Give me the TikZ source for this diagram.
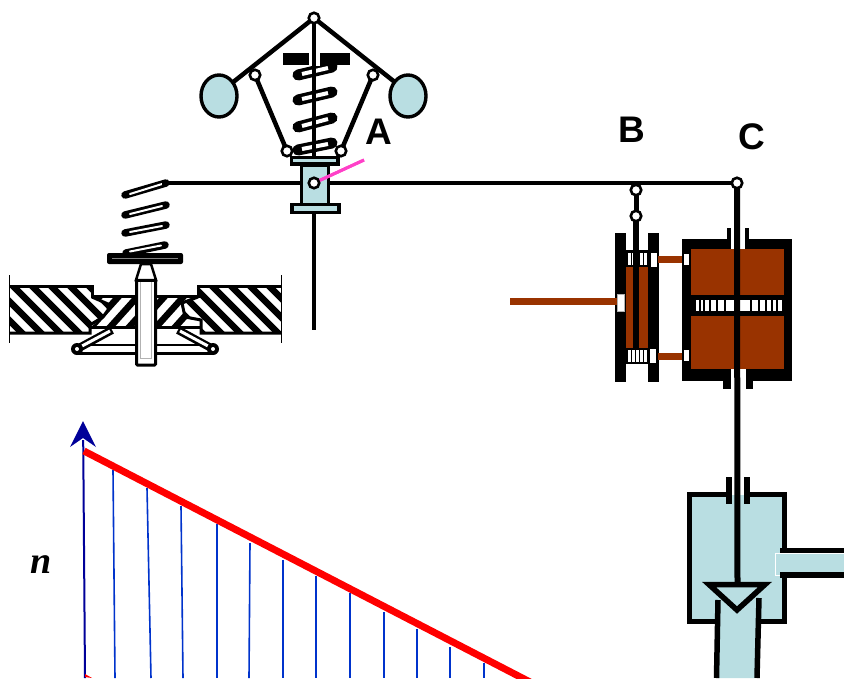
\documentclass[tikz,border=0pt]{standalone}
\usepackage{fontspec}
\setmainfont{Liberation Serif}
\newfontfamily\labfont{Liberation Sans}[BoldFont={Liberation Sans Bold}]
\usetikzlibrary{arrows.meta}
\definecolor{pale}{HTML}{B9DEE2}
\definecolor{rust}{HTML}{993300}
\definecolor{navy}{HTML}{000099}
\definecolor{ticks}{HTML}{0033CC}
\definecolor{pink}{HTML}{FF40C8}
\tikzset{
  pivot/.style={circle,draw=black,fill=white,line width=2.6pt,inner sep=0pt,minimum size=10.5pt},
  bar/.style={draw=black,line width=4.5pt},
  linkbar/.style={draw=black,line width=4pt},
  paleframe/.style={fill=pale,draw=black,line width=3.2pt},
  letter/.style={font=\labfont\bfseries\fontsize{37}{37}\selectfont,inner sep=0pt,text=black},
  hatch/.style={draw=black,line width=6.5pt},
  coilblack/.style={draw=black,line width=11pt,line cap=round},
  coilwhite/.style={draw=white,line width=4pt},
  lcoilblack/.style={draw=black,line width=7.5pt,line cap=round},
  lcoilwhite/.style={draw=white,line width=2pt,line cap=round},
  rustline/.style={draw=rust,line width=7pt},
  tick/.style={draw=ticks,line width=1.6pt},
  port/.style={fill=white,draw=none},
}
\begin{document}
\begin{tikzpicture}[x=1pt,y=-1pt]
\useasboundingbox (0,0) rectangle (844,678);
\fill[white] (0,0) rectangle (844,678);
% anchors
\coordinate (top) at (314,18);
\coordinate (kl) at (255,75);
\coordinate (kr) at (373,75);
\coordinate (fl) at (287,151);
\coordinate (fr) at (341,151);
\coordinate (sl) at (314,183);
\coordinate (leverL) at (162,183);
\coordinate (pb) at (636,190);
\coordinate (pb2) at (636,216);
\coordinate (pc) at (737,183);
\coordinate (rodend) at (314,330);

% chart
\draw[tick] (113,470) -- (115,678);
\draw[tick] (147,488) -- (151,678);
\draw[tick] (181,506) -- (183,678);
\draw[tick] (217,524) -- (217,678);
\draw[tick] (250,543) -- (249,678);
\draw[tick] (283,560) -- (283,678);
\draw[tick] (316,576) -- (316,678);
\draw[tick] (350,593) -- (350,678);
\draw[tick] (384,612) -- (384,678);
\draw[tick] (417,629) -- (417,678);
\draw[tick] (450,647) -- (450,678);
\draw[tick] (484,663) -- (484,678);
\coordinate (axisfoot) at (85,678);
\coordinate (axistip) at (83,421);
\draw[navy,line width=2pt] (axisfoot) -- (83.2,440);
\fill[navy] (axistip) -- (96,447) -- (83,438) -- (70,447) -- cycle;
\draw[red,line width=7pt] (84,451) -- (530,682);
\fill[red] (85,677) -- (92,678) -- (85,674) -- cycle;
\node[inner sep=0pt] (nlabel) at (41,565) {\fontsize{38}{38}\selectfont\bfseries\itshape n};

% lower-left spring
\foreach \a/\b in {195/183,215/205,233/225}{
  \draw[lcoilblack] (125,\a) -- (166,\b);
  \draw[lcoilwhite] (130,{\a-1}) -- (162,{\b+1});
}
\draw[lcoilblack] (126,253) -- (165,245);
\draw[lcoilwhite] (130,251.5) -- (161,245.5);
\fill[black,rounded corners=2pt] (107,253) rectangle (183,264);
\draw[gray,line width=.8pt] (112,258.5) -- (178,258.5);

% hatched body
\begin{scope}
\clip (9,286) -- (92,286) -- (92,297) -- (108,304) -- (108,310) -- (103,317) -- (91,325) -- (91,333) -- (9,333) -- cycle;
\foreach \x in {-50,-31,...,90} \draw[hatch] (\x,280) -- (\x+60,340);
\end{scope}
\begin{scope}
\clip (198,286) -- (281,286) -- (281,333) -- (201,333) -- (201,320) -- (185,317) -- (182,303) -- (198,297) -- cycle;
\foreach \x in {130,149,...,290} \draw[hatch] (\x,280) -- (\x+60,340);
\end{scope}
\begin{scope}
\clip (92,297) -- (135,297) -- (135,327) -- (91,327) -- (103,317) -- (108,310) -- (108,304) -- cycle;
\foreach \x in {110,129,148,167} \draw[hatch] (\x,285) -- (\x-45,335);
\end{scope}
\begin{scope}
\clip (157,297) -- (198,297) -- (182,303) -- (185,317) -- (201,320) -- (201,327) -- (157,327) -- cycle;
\foreach \x in {175,194,213} \draw[hatch] (\x,285) -- (\x-45,335);
\end{scope}
\draw[black,line width=3pt] (9,286) -- (92,286) -- (92,296) -- (135,296);
\draw[black,line width=3pt] (281,286) -- (198,286) -- (198,296) -- (157,296);
\draw[black,line width=3pt] (9,333) -- (90,333) -- (90,325) -- (103,317) -- (108,310) -- (108,304) -- (92,297);
\draw[black,line width=3pt] (281,333) -- (201,333) -- (201,320) -- (185,317) -- (182,303) -- (198,297);
\draw[black,line width=3pt] (90,327) -- (135,327);
\draw[black,line width=3pt] (157,327) -- (201,327);
\draw[black,line width=.8pt] (9,275) -- (9,343);
\draw[black,line width=.8pt] (281,275) -- (281,343);
% wedge links
\coordinate (wl) at (77,349);
\coordinate (wr) at (213,349);
\draw[black,line width=11pt] (wl) -- (135,349);
\draw[black,line width=11pt] (157,349) -- (wr);
\draw[white,line width=5.5pt] (82,349) -- (135,349);
\draw[white,line width=5.5pt] (157,349) -- (208,349);
\draw[black,line width=8pt] (wl) -- (112,330);
\draw[black,line width=8pt] (wr) -- (178,330);
\draw[white,line width=3pt] (82,346) -- (110,331);
\draw[white,line width=3pt] (208,346) -- (180,331);
\fill[black] (wl) circle (6);
\fill[black] (wr) circle (6);
\fill[white] (wl) circle (2);
\fill[white] (wr) circle (2);
% pin
\draw[black,fill=white,line width=3pt,rounded corners=1pt] (136.5,280) rectangle (155.5,365);
\draw[gray!60,line width=1pt] (140.5,282) -- (140.5,358) -- (151.5,358) -- (151.5,282);
\draw[black,fill=white,line width=2.5pt] (136,280) -- (141,264) -- (151,264) -- (156,280) -- cycle;
\draw[black,fill=white,line width=0pt] (136,280) rectangle (156,281);

% governor spring
\foreach \a/\b in {75/67,100/92,127/118}{
  \draw[coilblack] (298,\a) -- (332,\b);
  \draw[coilwhite] (302,{\a-1}) -- (328,{\b+1});
}
\draw[coilblack] (298,150) -- (332,143);
\draw[coilwhite] (302,149) -- (328,144);
\fill[black] (283,53) rectangle (350,65);
\draw[white,line width=11pt] (top|-53,52) -- (top|-53,66);

% lever and rod
\draw[bar] (leverL) -- (pc);
\draw[linkbar] (top) -- (314,160);
\draw[linkbar] (314,210) -- (rodend);
% arms, balls
\draw[bar] (top) -- (232,83);
\draw[bar] (top) -- (396,83);
\draw[bar] (kl) -- (fl);
\draw[bar] (kr) -- (fr);
\draw[black,fill=pale,line width=3.4pt] (219,96) ellipse (18 and 21);
\draw[black,fill=pale,line width=3.4pt] (408,96) ellipse (18 and 21);
% sleeve
\draw[paleframe] (301.5,165) rectangle (328.5,205);
\draw[paleframe] (291.5,157.5) rectangle (338,164);
\draw[paleframe] (292,204.5) rectangle (339,212.5);
\draw[pink,line width=3pt] (sl) -- (364,160);
\node[pivot] (ptop) at (top) {};
\node[pivot] (pkl) at (kl) {};
\node[pivot] (pkr) at (kr) {};
\node[pivot] (pfl) at (fl) {};
\node[pivot] (pfr) at (fr) {};
\node[pivot] (psl) at (sl) {};
\draw[pink,line width=3pt] (psl) -- (364,160);

% block B
\fill[rust] (626,267) rectangle (648,348);
\fill[black] (615,233) rectangle (625.5,382);
\fill[black] (648,233) rectangle (658.5,382);
\draw[rustline] (510,301.5) -- (617,301.5);
\fill[port,draw=gray!60,line width=.5pt] (617,294) rectangle (624,311);
\fill[black] (625,250) rectangle (650,267);
\fill[black] (625,348) rectangle (650,364);
\foreach \x in {628,632,636,640,644} {
  \fill[white] (\x,253) rectangle (\x+2.6,265);
  \fill[white] (\x,350) rectangle (\x+2.6,362);
}
\fill[port] (651,253) rectangle (657,267);
\fill[port] (650,349) rectangle (656,363);
\draw[rustline] (658,259) -- (683,259);
\draw[rustline] (658,356) -- (683,356);
\draw[black,line width=5.5pt] (pb2) -- (636,350);
\draw[black,line width=5pt] (pb) -- (pb2);
\draw[linkbar] (636,183) -- (pb);

% block C
\fill[black] (682,239) rectangle (792,381);
\fill[rust] (691,249) rectangle (784,369);
\fill[black] (691,295) rectangle (784,316);
\fill[white] (731,239) rectangle (745,249);
\fill[white] (731,369) rectangle (746,390);
\fill[black] (727,228) rectangle (731,248);
\fill[black] (745,228) rectangle (749,248);
\fill[black] (723,381) rectangle (731,389);
\fill[black] (746,381) rectangle (753,389);
\fill[white] (696,300) rectangle (782,311);
\foreach \x/\w in {699/1.5,703/1.5,709/1.5,716/1.5,724/1.5,750/1.5,758/1.5,765/1.5,771/1.5,776/1.5} \fill[black] (\x,300) rectangle (\x+\w,311);
\fill[port] (683.5,254) rectangle (689,265);
\fill[port] (683.5,350) rectangle (689,361);

% lower valve
\fill[pale] (690,495) rectangle (784,621);
\fill[pale] (718,600) -- (759,600) -- (756,678) -- (718,678) -- cycle;
\fill[white] (732,470) rectangle (744,494.5);
\draw[black,line width=5.5pt] (729,494.7) -- (689.7,494.7) -- (689.7,621.3) -- (718,621.3);
\draw[black,line width=5.5pt] (747,494.7) -- (784.3,494.7) -- (784.3,550);
\draw[black,line width=5.5pt] (784.3,575) -- (784.3,621.3) -- (759,621.3);
\fill[pale] (775,553) rectangle (844,572);
\draw[white,line width=.7pt] (844,553) -- (775.5,553) -- (775.5,575) -- (780,575);
\draw[black,line width=5.5pt] (780,550.5) -- (844,550.5);
\draw[black,line width=5.5pt] (780,575) -- (844,575);
\fill[black] (726,477) rectangle (732,504);
\fill[black] (744,477) rectangle (750,504);
\draw[black,line width=5.5pt] (718,600) -- (716.5,678);
\draw[black,line width=5.5pt] (759,598) -- (757,678);
\draw[black,fill=pale,line width=5.5pt,miter limit=10] (709,584.5) -- (737,610) -- (765,584.5) -- cycle;

% rod C
\draw[black,line width=6pt] (pc) -- (737.5,583);
\node[pivot] (ppb) at (pb) {};
\node[pivot] (ppb2) at (pb2) {};
\node[pivot] (ppc) at (pc) {};

% labels
\node[letter] (la) at (379,132) {A};
\node[letter] (lb) at (632,130) {B};
\node[letter] (lc) at (752,137) {C};
\end{tikzpicture}
\end{document}
